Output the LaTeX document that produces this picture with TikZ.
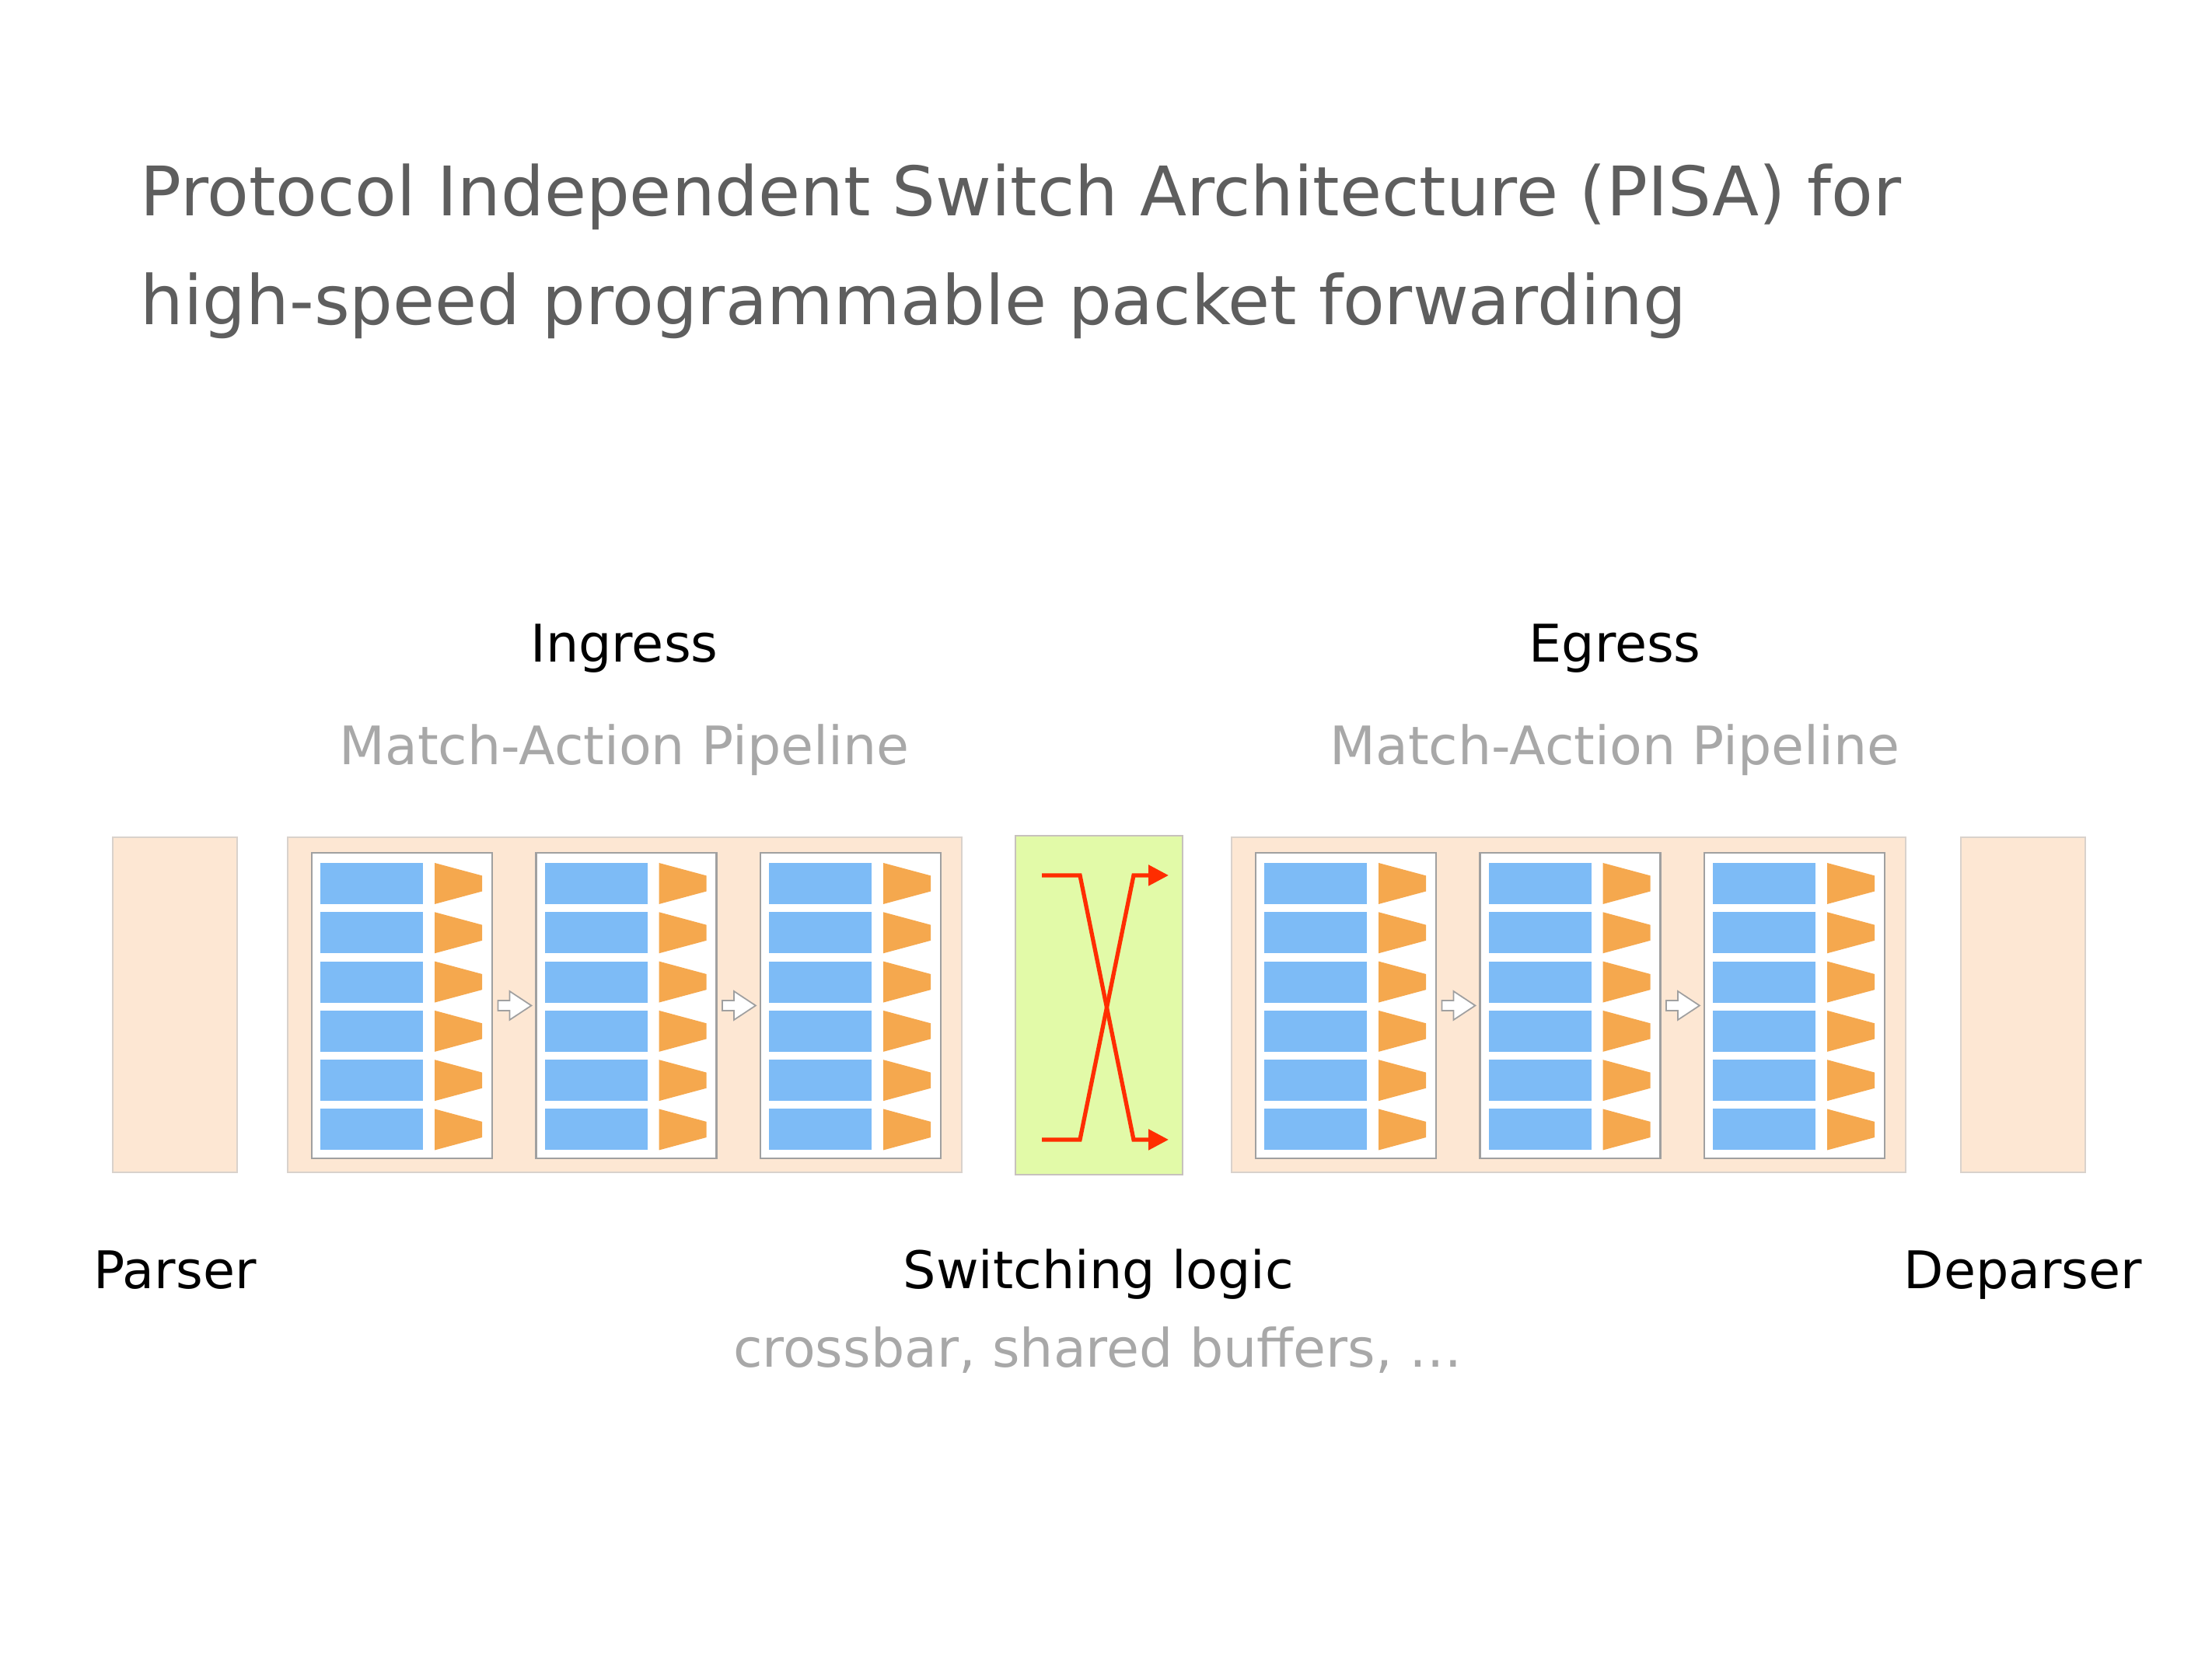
\documentclass[tikz,border=0pt]{standalone}
\usepackage{fontspec}
\setsansfont{DejaVu Sans}
\usetikzlibrary{
  arrows.meta,
  positioning
}
\definecolor{pisaPeach}{HTML}{FDE7D3}
\definecolor{pisaEdge}{HTML}{D9D2CC}
\definecolor{pisaLime}{HTML}{E2FAA8}
\definecolor{pisaBlue}{HTML}{7DBBF6}
\definecolor{pisaOrange}{HTML}{F5A84E}
\definecolor{pisaRed}{HTML}{FF2D00}
\definecolor{pisaFrame}{HTML}{A0A0A0}
\definecolor{pisaTitle}{HTML}{5E5E5E}
\definecolor{pisaMuted}{HTML}{A8A8A8}
\tikzset{
  every node/.style={font=\sffamily, text=black, inner sep=0pt},
  headline/.style={
    font=\sffamily\fontsize{25}{30}\selectfont,
    text=pisaTitle,
    anchor=base west
  },
  partname/.style={
    font=\sffamily\fontsize{19}{23}\selectfont,
    text=black,
    anchor=base
  },
  partnote/.style={
    partname,
    font=\sffamily\fontsize{19.4}{23}\selectfont,
    text=pisaMuted
  },
  block/.style={
    draw=pisaEdge,
    line width=0.6pt,
    fill=pisaPeach,
    minimum height=4.31cm
  },
  stagebox/.style={
    draw=pisaFrame,
    line width=0.8pt,
    fill=white,
    minimum width=2.32cm,
    minimum height=3.93cm
  },
  tablecell/.style={fill=pisaBlue},
  actioncell/.style={fill=pisaOrange},
  stagearrow/.style={
    draw=pisaFrame,
    line width=0.5pt,
    fill=white
  },
  crossline/.style={
    -{Triangle[length=2.6mm,width=2.6mm]},
    line width=1.5pt,
    draw=pisaRed
  }
}

\begin{document}
\begin{tikzpicture}[x=1cm,y=1cm]
  \useasboundingbox (0,0) rectangle (28.45,21.34);
  \def\rowh{0.53}
  \def\rowgap{0.633}
  \def\stagegap{2.885}

  % title
  \node[headline] (titleA) at (1.80,18.56) {Protocol Independent Switch Architecture (PISA) for};
  \node[headline] (titleB) at (1.80,17.16) {high-speed programmable packet forwarding};

  % outer blocks
  \node[block, minimum width=1.60cm] (parser) at (2.25,8.415) {};
  \node[block, minimum width=8.67cm] (ingress) at (8.035,8.415) {};
  \node[block, fill=pisaLime, draw=pisaEdge!80!gray, minimum width=2.15cm, minimum height=4.36cm]
    (switch) at (14.135,8.41) {};
  \node[block, minimum width=8.67cm] (egress) at (20.175,8.415) {};
  \node[block, minimum width=1.60cm] (deparser) at (26.02,8.415) {};

  % match-action stages
  \foreach \pipe/\x in {ing/3.70, eg/15.84}{
    \foreach \s in {0,1,2}{
      \node[stagebox] (\pipe\s) at ({\x+1.47+\s*\stagegap},8.405) {};
      \foreach \r in {0,...,5}{
        \fill[tablecell] ({\x+0.42+\s*\stagegap},{10.24-\r*\rowgap}) rectangle ++(1.32,-\rowh);
        \fill[actioncell] ({\x+1.89+\s*\stagegap},{10.24-\r*\rowgap})
          -- ++(0.61,-0.164) -- ++(0,-0.202) -- ++(-0.61,-0.164) -- cycle;
      }
    }
    \foreach \s in {0,1}{
      \draw[stagearrow] ([xshift=0.6mm,yshift=0.65mm]\pipe\s.east)
        -- ++(0.15,0) -- ++(0,0.12) -- ++(0.28,-0.185) -- ++(-0.28,-0.185)
        -- ++(0,0.12) -- ++(-0.15,0) -- cycle;
    }
  }

  % crossbar
  \coordinate (inTop) at (13.40,10.08);
  \coordinate (inBot) at (13.40,6.68);
  \coordinate (outTop) at (15.03,10.08);
  \coordinate (outBot) at (15.03,6.68);
  \draw[crossline] (inTop) -- ++(0.49,0) -- ([xshift=-4.5mm]outBot) -- (outBot);
  \draw[crossline] (inBot) -- ++(0.49,0) -- ([xshift=-4.5mm]outTop) -- (outTop);

  % names
  \node[partname] (ingressName) at (8.03,12.82) {Ingress};
  \node[partnote] (ingressNote) at (8.03,11.50) {Match-Action Pipeline};
  \node[partname] (egressName) at (20.77,12.82) {Egress};
  \node[partnote] (egressNote) at (20.77,11.50) {Match-Action Pipeline};
  \node[partname] (parserName) at (2.25,4.76) {Parser};
  \node[partname] (switchName) at (14.13,4.76) {Switching logic};
  \node[partnote] (switchNote) at (14.12,3.75) {crossbar, shared buffers, …};
  \node[partname] (deparserName) at (26.02,4.76) {Deparser};
\end{tikzpicture}
\end{document}
